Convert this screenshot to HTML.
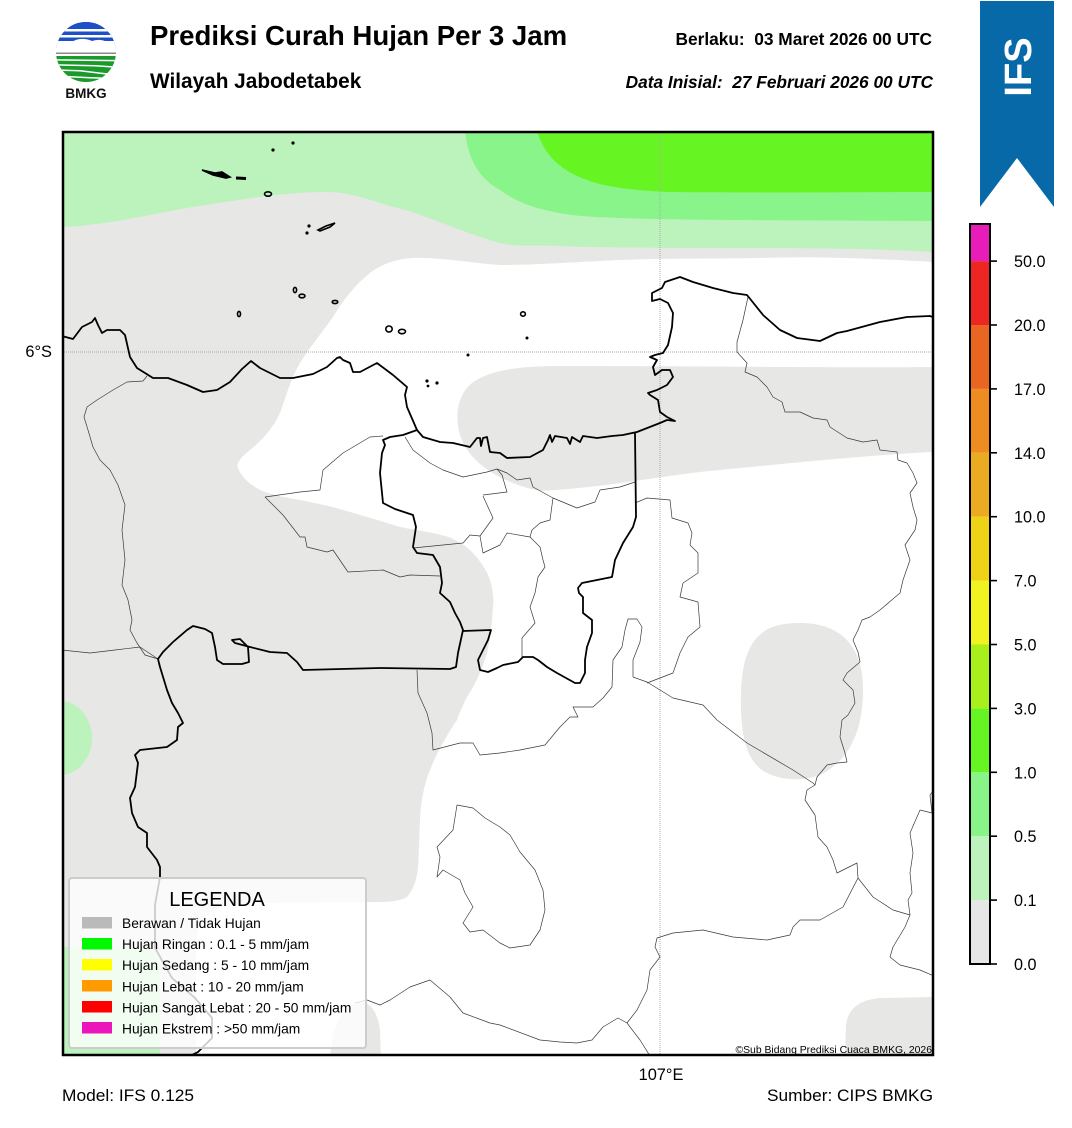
<!DOCTYPE html>
<html><head><meta charset="utf-8"><style>
html,body{margin:0;padding:0;background:#fff;}
svg{display:block;}
text{font-family:"Liberation Sans",Arial,sans-serif;}
</style></head><body>
<svg width="1072" height="1128" viewBox="0 0 1072 1128" xmlns="http://www.w3.org/2000/svg">
<rect width="1072" height="1128" fill="#fff"/>
<defs>
<clipPath id="mapclip"><rect x="63" y="132" width="870" height="923"/></clipPath>
<clipPath id="logoclip"><circle cx="86" cy="52" r="30"/></clipPath>
</defs>

<!-- Logo -->
<g clip-path="url(#logoclip)">
<rect x="50" y="20" width="75" height="28" fill="#1f4fc8"/>
<rect x="50" y="29" width="75" height="2.5" fill="#fff"/>
<rect x="50" y="35" width="75" height="2.5" fill="#fff"/>
<rect x="50" y="41" width="75" height="2.5" fill="#fff"/>
<path d="M50,48 L50,44 Q62,40 70,43 Q80,36 92,41 Q102,38 108,43 Q116,42 125,46 L125,48 Z" fill="#fff"/>
<rect x="50" y="48" width="75" height="4" fill="#fff"/>
<rect x="50" y="52.5" width="75" height="1.5" fill="#8a8a8a"/>
<rect x="50" y="54" width="75" height="2" fill="#fff"/>
<rect x="50" y="56" width="75" height="30" fill="#1a9a2a"/>
<path d="M50,59 L125,60 L125,61.5 L50,60.5 Z" fill="#fff"/>
<path d="M50,64 L95,65 L125,67 L125,68.5 L95,66.5 L50,65.5 Z" fill="#fff"/>
<path d="M50,69 L80,70 L105,73 L125,73 L125,74.5 L105,74.5 L80,71.5 L50,70.5 Z" fill="#fff"/>
<path d="M50,75 L90,77 L125,78 L125,79.5 L90,78.5 L50,76.5 Z" fill="#fff"/>
<rect x="50" y="20" width="75" height="8" fill="#1f4fc8"/>
</g>
<text x="86" y="98" font-size="13.5" font-weight="bold" text-anchor="middle" fill="#111">BMKG</text>

<!-- Titles -->
<text x="150" y="45" font-size="27.6" font-weight="bold" fill="#000">Prediksi Curah Hujan Per 3 Jam</text>
<text x="150" y="88" font-size="20.8" font-weight="bold" fill="#000">Wilayah Jabodetabek</text>
<text x="932" y="45" font-size="17.3" font-weight="bold" text-anchor="end" fill="#000" xml:space="preserve">Berlaku:  03 Maret 2026 00 UTC</text>
<text x="933" y="88" font-size="17.3" font-weight="bold" font-style="italic" text-anchor="end" fill="#000" xml:space="preserve">Data Inisial:  27 Februari 2026 00 UTC</text>

<!-- IFS ribbon -->
<path d="M980,1 L1054,1 L1054,207 L1017,158 L980,207 Z" fill="#0769a7"/>
<text transform="translate(1031,67) rotate(-90)" font-size="38" font-weight="bold" fill="#fff" text-anchor="middle">IFS</text>

<!-- MAP -->
<g clip-path="url(#mapclip)">
<rect x="62" y="131" width="873" height="926" fill="#e7e7e6"/>
<path d="M62,131 L934,131 L934,252 C880,249 820,248 760,248 C680,248 600,248 560,246 C530,245 515,247 500,243 C460,232 420,212 393,207 C370,200 350,192 327,192 C280,192 240,200 193,207 C150,214 110,225 62,227 Z" fill="#bcf2bc"/>
<path d="M465,131 C468,158 478,178 500,190 C520,205 545,212 580,216 C650,221 800,220 934,221 L934,131 Z" fill="#89f489"/>
<path d="M537,131 C545,158 565,175 600,184 C620,189 645,191 670,192 C760,193 860,192 934,192 L934,131 Z" fill="#66f522"/>
<path d="M934,262 C880,259 820,256 760,258 C700,259 650,258 600,261 C560,263 530,265 500,265 C470,263 440,257 413,258 C395,259 380,265 370,273 C355,285 343,300 333,317 C320,335 308,350 300,363 C290,380 285,400 280,413 C272,430 262,440 250,450 C240,458 236,464 238,468 C242,478 252,487 265,492 C280,497 300,500 300,500 C315,503 333,507 333,507 C360,515 385,522 400,527 C425,532 445,534 455,540 C465,545 470,550 473,553 C482,563 488,573 490,580 C493,590 494,600 493,607 C492,625 490,640 487,653 C482,670 475,685 467,697 C462,707 459,714 457,720 C447,735 437,752 430,770 C424,785 421,800 420,820 C419,840 419,855 418,867 C417,880 413,890 407,897 C400,901 390,902 380,902 L250,903 C225,904 210,910 202,922 C197,930 196,940 196,950 L196,1057 L934,1057 Z" fill="#ffffff"/>
<path d="M934,367 C850,368 700,366 560,366 C520,366 490,370 472,383 C457,395 454,418 461,438 C470,462 498,482 540,491 C600,488 650,478 700,472 C800,462 870,455 934,452 Z" fill="#e7e7e6"/>
<path d="M800,623 C840,623 863,645 863,690 C863,730 850,760 820,775 C800,782 780,780 765,772 C748,762 742,740 741,710 C740,670 745,640 770,628 C780,624 790,623 800,623 Z" fill="#e7e7e6"/>
<path d="M934,997 L880,998 C860,1000 848,1008 846,1025 L845,1057 L934,1057 Z" fill="#e7e7e6"/>
<path d="M330,1057 C332,1030 340,1005 360,1002 C372,1002 378,1015 380,1030 L381,1057 Z" fill="#e7e7e6"/>
<ellipse cx="60" cy="738" rx="32" ry="37" fill="#bcf2bc"/>
<path d="M62,947 L140,947 C155,948 160,960 160,980 L160,1057 L62,1057 Z" fill="#bcf2bc"/>

<line x1="660" y1="131" x2="660" y2="1057" stroke="#aaaaaa" stroke-width="1" stroke-dasharray="1,1"/>
<line x1="62" y1="352" x2="934" y2="352" stroke="#aaaaaa" stroke-width="1" stroke-dasharray="1,1"/>

<g fill="none" stroke="#3a3a3a" stroke-width="0.7" stroke-linejoin="round">
<polyline points="147,376 143,381 127,382 113,390 97,400 87,407 84,417 88,430 93,447 100,460 110,470 118,485 125,505 122,530 125,560 122,585 128,600 132,620 130,630 137,643 145,655 158,659"/>
<polyline points="62,650 90,653 115,650 140,647 158,659"/>
<polyline points="265,497 300,492 320,490 323,470 343,453 370,437 383,436"/>
<polyline points="265,497 283,515 300,537 305,537 307,547 327,552 333,550 348,572 383,570 400,577 410,575 440,576"/>
<polyline points="405,437 413,450 430,463 443,470 463,477 487,472 497,469 507,473 517,480 530,478 533,487 553,498 577,508 595,502 600,490 620,487 635,482"/>
<polyline points="483,495 507,492 502,475 497,469"/>
<polyline points="413,548 463,543 470,535 480,536 493,518 483,496"/>
<polyline points="480,536 483,553 500,545 507,533 530,537"/>
<polyline points="553,498 550,520 540,523 532,530 530,537 540,547 543,560 545,567 538,577 535,593 530,607 535,623 522,638 522,657"/>
<polyline points="635,503 647,498 670,500 672,518 688,523 692,533 690,545 698,553 698,573 683,583 680,597 698,602 700,627 688,637 680,653 673,673 647,683"/>
<polyline points="633,677 647,682 673,698 703,705 717,720 747,743 793,770 813,783 815,785"/>
<polyline points="633,677 633,660 640,642 642,627 637,619 628,619 625,630 622,647 613,660 612,687 603,698 593,707 573,707 578,717 570,717 560,727 545,745 520,750 500,753 480,755 473,743 460,743 433,750 432,733 427,713 418,693 417,670"/>
<polyline points="748,297 743,320 737,342 737,352 747,363 745,372 757,377 767,387 773,397 782,402 785,412 800,412 813,418 827,420 830,427 847,438 863,442 877,440 880,450 897,452 898,460 907,463 913,473 917,483 910,493 913,507 917,520 915,530 905,545 910,560 903,580 900,593 880,610 870,617 862,620 858,630 853,640 858,652 860,662 847,673 843,680 853,690 855,703 848,715 842,720 840,737 845,753 847,762 837,763 827,765 817,777 815,785 807,790 805,800 815,815 818,837 827,847 833,860 837,873 847,868 857,863 858,878 873,897 893,910 910,915 905,927 893,947 890,957 900,965 920,970 934,976"/>
<polyline points="858,878 843,907 820,920 800,920 793,927 790,935 767,940 733,937 703,930 673,933 657,938 655,947 660,957 650,970 647,990 637,1010 627,1023 618,1018 603,1027 592,1040 577,1043 560,1042 540,1040 500,1025 490,1023 463,1013 450,997 430,980 410,987 390,1000 380,1005 367,1000 355,1003"/>
<polyline points="627,1023 640,1040 650,1056"/>
<polyline points="934,790 930,795 932,813 920,810 910,833 913,853 910,873 912,893 908,900 910,915"/>
<polyline points="457,805 473,808 485,818 500,827 510,835 520,852 535,870 543,890 545,910 540,930 530,945 510,948 500,943 483,930 470,932 463,923 473,907 465,893 460,880 443,870 437,877 440,857 437,847 453,830 457,805"/>
</g>

<g fill="none" stroke="#000" stroke-width="1.8" stroke-linejoin="round" stroke-linecap="round">
<polyline points="62,336 73,339 82,327 92,322 95,318 98,325 102,333 107,330 120,330 125,335 130,357 137,368 153,378 168,378 187,385 203,392 217,390 230,382 242,369 251,361 260,368 280,378 293,378 313,374 327,367 337,358 340,357 343,360 350,363 353,372 360,372 377,363 393,375 407,387 405,395 407,407 417,430 423,437 440,442 453,443 470,447 477,438 480,438 481,446 483,438 487,437 490,452 500,453 507,458 530,457 543,450 548,440 550,435 552,442 555,436 567,438 570,444 572,437 580,442 583,436 597,438 612,436 623,435 637,432 660,423 667,420 675,421 667,417 660,412 658,400 650,395 648,393 657,390 667,385 673,377 670,370 662,370 655,375 653,367 657,360 650,357 655,355 663,353 668,345 672,327 673,313 668,303 660,299 652,301 652,293 662,288 665,282 680,277 693,282 713,288 733,293 747,295 763,315 780,330 797,338 820,341 837,333 847,331 880,322 907,317 930,316 935,318"/>
<polyline points="417,430 403,435 390,437 383,440 385,445 382,453 380,473 383,503 395,509 413,515 416,527 413,547 417,553 433,555 440,567 442,583 440,593 450,602 455,613 460,622 463,630 458,653 456,667 450,669 380,668 303,670 297,662 287,653 270,652 250,647 235,643 232,640 240,639 248,647 249,662 242,664 223,664 217,660 215,647 212,633 205,629 193,626 187,630 173,642 163,652 158,659 160,667 167,690 172,703 178,713 183,723 178,727 177,740 167,747 140,750 135,755 138,763 135,787 130,798 132,813 138,827 147,833 147,847 157,860 160,867 160,877 155,905 155,948 172,978 195,998 212,1018 212,1038 198,1052 190,1056"/>
<polyline points="463,631 491,630 488,640 483,650 478,660 480,670 488,672 497,668 503,665 518,662 523,657 533,657 538,660 547,667 557,673 575,683 580,683 585,673 585,660 587,647 592,633 592,620 583,613 583,597 579,593 578,588 582,583 612,577 615,560 623,543 633,527 636,517 635,433"/>
</g>

<g stroke="#000" stroke-width="1.6" fill="none">
<path d="M202,170 L215,173 L222,172 L230,177 L226,178 L213,175 Z" fill="#000"/>
<line x1="236" y1="178" x2="246" y2="178.5" stroke-width="3"/>
<ellipse cx="268" cy="194" rx="3.5" ry="2.2"/>
<path d="M318,230 L326,226 L335,223 L330,227 L320,231 Z"/>
<ellipse cx="295" cy="290" rx="1.6" ry="2.6"/>
<ellipse cx="302" cy="296" rx="3" ry="1.8"/>
<ellipse cx="335" cy="302" rx="2.8" ry="1.6"/>
<ellipse cx="239" cy="314" rx="1.5" ry="2.6"/>
<ellipse cx="389" cy="329" rx="3.2" ry="3"/>
<ellipse cx="402" cy="331.5" rx="3.5" ry="2.2"/>
<ellipse cx="523" cy="314" rx="2.4" ry="2.2"/>
</g>
<g fill="#000">
<circle cx="273" cy="150" r="1.6"/><circle cx="293" cy="143" r="1.6"/>
<circle cx="309" cy="226" r="1.6"/><circle cx="307" cy="233" r="1.6"/>
<circle cx="468" cy="355" r="1.5"/><circle cx="527" cy="338" r="1.5"/>
<circle cx="427" cy="381" r="1.6"/><circle cx="428" cy="386" r="1.4"/><circle cx="437" cy="383" r="1.6"/>
</g>

<rect x="69" y="878" width="297" height="170" rx="3" fill="#ffffff" fill-opacity="0.8" stroke="#cccccc" stroke-width="2"/>
<text x="217" y="906" font-size="20" text-anchor="middle" fill="#000">LEGENDA</text>
<rect x="82" y="917" width="30" height="11.5" fill="#bababa"/>
<rect x="82" y="938" width="30" height="11.5" fill="#00f800"/>
<rect x="82" y="959" width="30" height="11.5" fill="#ffff00"/>
<rect x="82" y="980" width="30" height="11.5" fill="#ff9a00"/>
<rect x="82" y="1001" width="30" height="11.5" fill="#fe0000"/>
<rect x="82" y="1022" width="30" height="11.5" fill="#ec14bb"/>
<g font-size="13.8" fill="#000">
<text x="122" y="928">Berawan / Tidak Hujan</text>
<text x="122" y="949">Hujan Ringan : 0.1 - 5 mm/jam</text>
<text x="122" y="970">Hujan Sedang : 5 - 10 mm/jam</text>
<text x="122" y="991.5">Hujan Lebat : 10 - 20 mm/jam</text>
<text x="122" y="1012.5">Hujan Sangat Lebat : 20 - 50 mm/jam</text>
<text x="122" y="1033.5">Hujan Ekstrem : &gt;50 mm/jam</text>
</g>
<text x="932" y="1053" font-size="10.4" text-anchor="end" fill="#000">©Sub Bidang Prediksi Cuaca BMKG, 2026</text>
</g>
<rect x="63" y="132" width="870" height="923" fill="none" stroke="#000" stroke-width="2.5"/>

<text x="52" y="357" font-size="16.4" text-anchor="end" fill="#000">6°S</text>
<text x="661" y="1080" font-size="16.4" text-anchor="middle" fill="#000">107°E</text>
<text x="62" y="1101" font-size="16.4" fill="#000" textLength="132" lengthAdjust="spacingAndGlyphs">Model: IFS 0.125</text>
<text x="767" y="1101" font-size="16.4" fill="#000" textLength="166" lengthAdjust="spacingAndGlyphs">Sumber: CIPS BMKG</text>

<g>
<rect x="970" y="900.1" width="20" height="63.9" fill="#e6e6e6"/>
<rect x="970" y="836.2" width="20" height="63.9" fill="#bdf2bd"/>
<rect x="970" y="772.3" width="20" height="63.9" fill="#88f488"/>
<rect x="970" y="708.4" width="20" height="63.9" fill="#66f522"/>
<rect x="970" y="644.5" width="20" height="63.9" fill="#a8ef1c"/>
<rect x="970" y="580.6" width="20" height="63.9" fill="#f0f222"/>
<rect x="970" y="516.7" width="20" height="63.9" fill="#eed218"/>
<rect x="970" y="452.8" width="20" height="63.9" fill="#eaaa22"/>
<rect x="970" y="388.9" width="20" height="63.9" fill="#ee8c22"/>
<rect x="970" y="325.0" width="20" height="63.9" fill="#e96622"/>
<rect x="970" y="261.1" width="20" height="63.9" fill="#ee2622"/>
<rect x="970" y="224" width="20" height="37.1" fill="#e81cb8"/>
<rect x="970" y="224" width="20" height="740" fill="none" stroke="#000" stroke-width="2"/>
<g stroke="#000" stroke-width="1.6">
<line x1="990" y1="964" x2="997" y2="964"/>
<line x1="990" y1="900.1" x2="997" y2="900.1"/>
<line x1="990" y1="836.2" x2="997" y2="836.2"/>
<line x1="990" y1="772.3" x2="997" y2="772.3"/>
<line x1="990" y1="708.4" x2="997" y2="708.4"/>
<line x1="990" y1="644.5" x2="997" y2="644.5"/>
<line x1="990" y1="580.6" x2="997" y2="580.6"/>
<line x1="990" y1="516.7" x2="997" y2="516.7"/>
<line x1="990" y1="452.8" x2="997" y2="452.8"/>
<line x1="990" y1="388.9" x2="997" y2="388.9"/>
<line x1="990" y1="325.0" x2="997" y2="325.0"/>
<line x1="990" y1="261.1" x2="997" y2="261.1"/>
</g>
<g font-size="16.2" fill="#000">
<text x="1014" y="970">0.0</text>
<text x="1014" y="906.1">0.1</text>
<text x="1014" y="842.2">0.5</text>
<text x="1014" y="778.3">1.0</text>
<text x="1014" y="714.4">3.0</text>
<text x="1014" y="650.5">5.0</text>
<text x="1014" y="586.6">7.0</text>
<text x="1014" y="522.7">10.0</text>
<text x="1014" y="458.8">14.0</text>
<text x="1014" y="394.9">17.0</text>
<text x="1014" y="331.0">20.0</text>
<text x="1014" y="267.1">50.0</text>
</g>
</g>
</svg>
</body></html>
